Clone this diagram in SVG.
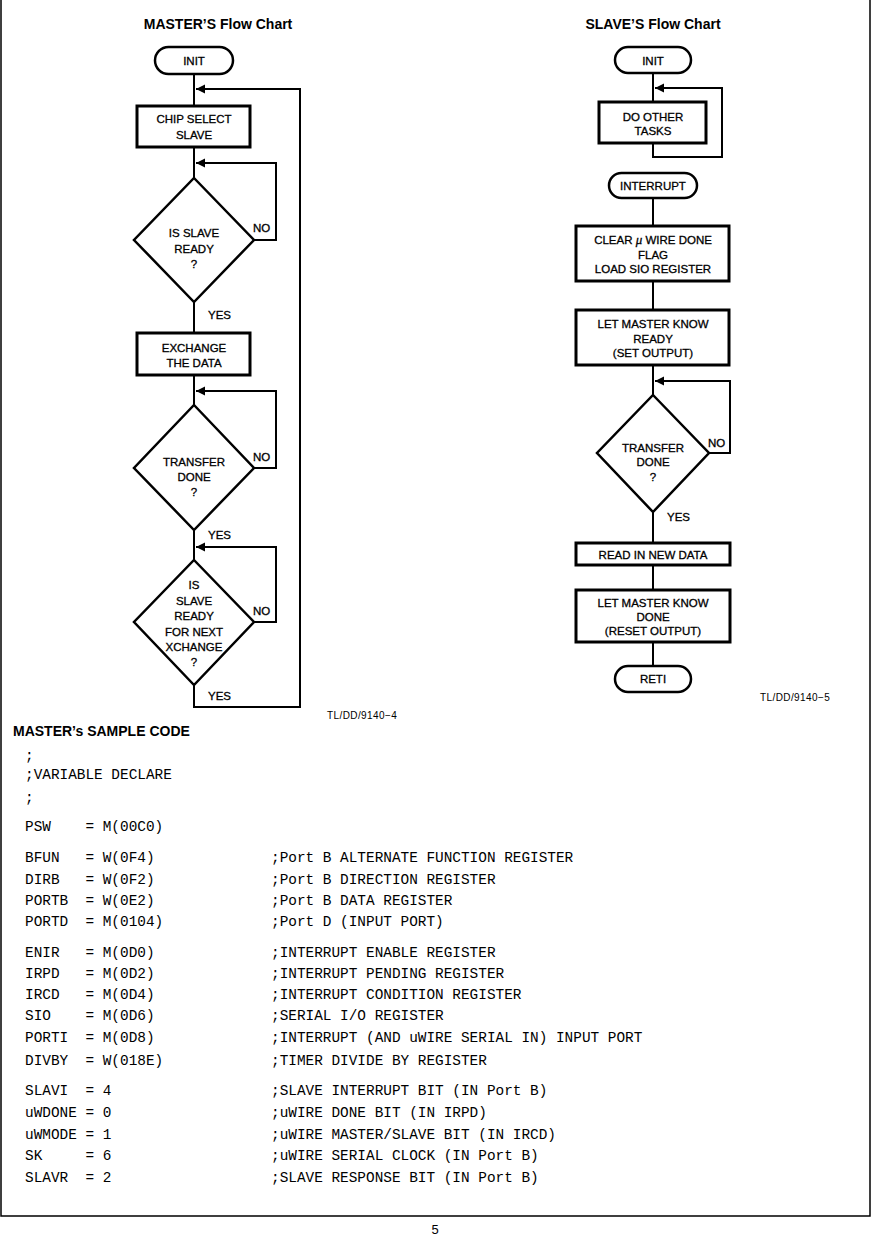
<svg xmlns="http://www.w3.org/2000/svg" width="871" height="1236" viewBox="0 0 871 1236">
<defs>
<marker id="ah" markerUnits="userSpaceOnUse" markerWidth="10" markerHeight="10" refX="9" refY="5" orient="auto">
<path d="M0,0.5 L9,5 L0,9.5 z" fill="#000"/>
</marker>
<style>
.t{font-family:"Liberation Sans",Arial,sans-serif;font-size:11.5px;fill:#000;stroke:#000;stroke-width:0.3;text-anchor:middle}
.l{font-family:"Liberation Sans",Arial,sans-serif;font-size:11.5px;fill:#000;stroke:#000;stroke-width:0.3}
.h{font-family:"Liberation Sans",Arial,sans-serif;font-size:14px;font-weight:bold;fill:#000}
.id{font-family:"Liberation Sans",Arial,sans-serif;font-size:10px;fill:#000;letter-spacing:0.4px}
.c{font-family:"Liberation Mono","Courier New",monospace;font-size:14.4px;fill:#000;white-space:pre}
.box{fill:#fff;stroke:#000;stroke-width:3}
.dia{fill:#fff;stroke:#000;stroke-width:2.5}
.term{fill:#fff;stroke:#000;stroke-width:2.5}
.cn{fill:none;stroke:#000;stroke-width:2}
</style>
</defs>
<rect width="871" height="1236" fill="#fff"/>
<path d="M1,0 V1216 H870 V0" fill="none" stroke="#000" stroke-width="1.5"/>

<text class="h" x="218" y="29" text-anchor="middle">MASTER’S Flow Chart</text>
<text class="h" x="653" y="29" text-anchor="middle">SLAVE’S Flow Chart</text>

<g id="connectors">
<path class="cn" d="M194,74 V106"/>
<path class="cn" d="M194,147 V178"/>
<path class="cn" d="M254,240 H276 V163 H196" marker-end="url(#ah)"/>
<path class="cn" d="M194,302 V333"/>
<path class="cn" d="M194,375 V405"/>
<path class="cn" d="M254,468 H276 V391 H196" marker-end="url(#ah)"/>
<path class="cn" d="M194,530 V560"/>
<path class="cn" d="M254,622 H276 V547 H196" marker-end="url(#ah)"/>
<path class="cn" d="M194,685 V707 H300 V89 H196" marker-end="url(#ah)"/>
<path class="cn" d="M653,73 V102"/>
<path class="cn" d="M653,143 V157 H722 V88 H655" marker-end="url(#ah)"/>
<path class="cn" d="M653,198 V226"/>
<path class="cn" d="M653,281 V310"/>
<path class="cn" d="M653,365 V395"/>
<path class="cn" d="M709,453 H730 V381 H655" marker-end="url(#ah)"/>
<path class="cn" d="M653,512 V543"/>
<path class="cn" d="M653,565 V590"/>
<path class="cn" d="M653,642 V666"/>
</g>

<g id="m_init"><rect class="term" x="155" y="47" width="78" height="27" rx="13.5"/><text class="t" x="194" y="65">INIT</text></g>
<g id="m_chip"><rect class="box" x="137" y="106" width="113" height="41"/><text class="t" x="194" y="123">CHIP SELECT</text><text class="t" x="194" y="139">SLAVE</text></g>
<g id="m_ready"><path class="dia" d="M194,178 L254,240 L194,302 L134,240 Z"/><text class="t" x="194" y="237">IS SLAVE</text><text class="t" x="194" y="253">READY</text><text class="t" x="194" y="268">?</text></g>
<g id="m_exch"><rect class="box" x="137" y="333" width="113" height="42"/><text class="t" x="194" y="352">EXCHANGE</text><text class="t" x="194" y="367">THE DATA</text></g>
<g id="m_done"><path class="dia" d="M194,405 L254,468 L194,530 L134,468 Z"/><text class="t" x="194" y="466">TRANSFER</text><text class="t" x="194" y="481">DONE</text><text class="t" x="194" y="496">?</text></g>
<g id="m_next"><path class="dia" d="M194,560 L254,622 L194,685 L134,622 Z"/><text class="t" x="194" y="589">IS</text><text class="t" x="194" y="605">SLAVE</text><text class="t" x="194" y="620">READY</text><text class="t" x="194" y="636">FOR NEXT</text><text class="t" x="194" y="651">XCHANGE</text><text class="t" x="194" y="666">?</text></g>
<g id="m_labels">
<text class="l" x="253" y="232">NO</text>
<text class="l" x="208" y="319">YES</text>
<text class="l" x="253" y="461">NO</text>
<text class="l" x="208" y="539">YES</text>
<text class="l" x="253" y="615">NO</text>
<text class="l" x="208" y="700">YES</text>
<text class="id" x="327" y="719">TL/DD/9140−4</text>
</g>

<g id="s_init"><rect class="term" x="615" y="47" width="76" height="26" rx="13"/><text class="t" x="653" y="65">INIT</text></g>
<g id="s_other"><rect class="box" x="599" y="102" width="107" height="41"/><text class="t" x="653" y="121">DO OTHER</text><text class="t" x="653" y="135">TASKS</text></g>
<g id="s_int"><rect class="term" x="609" y="173" width="88" height="25" rx="12.5"/><text class="t" x="653" y="190">INTERRUPT</text></g>
<g id="s_clear"><rect class="box" x="576" y="226" width="153" height="55"/><text class="t" x="653" y="244">CLEAR <tspan font-family="'Liberation Serif',serif" font-style="italic" font-size="13px">μ</tspan> WIRE DONE</text><text class="t" x="653" y="259">FLAG</text><text class="t" x="653" y="273">LOAD SIO REGISTER</text></g>
<g id="s_ready"><rect class="box" x="576" y="310" width="153" height="55"/><text class="t" x="653" y="328">LET MASTER KNOW</text><text class="t" x="653" y="343">READY</text><text class="t" x="653" y="357">(SET OUTPUT)</text></g>
<g id="s_done"><path class="dia" d="M653,395 L709,453 L653,512 L597,453 Z"/><text class="t" x="653" y="452">TRANSFER</text><text class="t" x="653" y="466">DONE</text><text class="t" x="653" y="481">?</text></g>
<g id="s_read"><rect class="box" x="576" y="543" width="154" height="22"/><text class="t" x="653" y="559">READ IN NEW DATA</text></g>
<g id="s_ldone"><rect class="box" x="576" y="590" width="154" height="52"/><text class="t" x="653" y="607">LET MASTER KNOW</text><text class="t" x="653" y="621">DONE</text><text class="t" x="653" y="635">(RESET OUTPUT)</text></g>
<g id="s_reti"><rect class="term" x="615" y="666" width="76" height="26" rx="13"/><text class="t" x="653" y="683">RETI</text></g>
<g id="s_labels">
<text class="l" x="708" y="447">NO</text>
<text class="l" x="667" y="521">YES</text>
<text class="id" x="760" y="701">TL/DD/9140−5</text>
</g>

<g id="code">
<text class="h" x="13" y="736">MASTER’s SAMPLE CODE</text>
<text class="c" x="25" y="760">;</text>
<text class="c" x="25" y="779">;VARIABLE DECLARE</text>
<text class="c" x="25" y="802">;</text>
<text class="c" x="25" y="831">PSW    = M(00C0)</text>
<text class="c" x="25" y="862">BFUN   = W(0F4)</text><text class="c" x="271" y="862">;Port B ALTERNATE FUNCTION REGISTER</text>
<text class="c" x="25" y="884">DIRB   = W(0F2)</text><text class="c" x="271" y="884">;Port B DIRECTION REGISTER</text>
<text class="c" x="25" y="905">PORTB  = W(0E2)</text><text class="c" x="271" y="905">;Port B DATA REGISTER</text>
<text class="c" x="25" y="926">PORTD  = M(0104)</text><text class="c" x="271" y="926">;Port D (INPUT PORT)</text>
<text class="c" x="25" y="957">ENIR   = M(0D0)</text><text class="c" x="271" y="957">;INTERRUPT ENABLE REGISTER</text>
<text class="c" x="25" y="978">IRPD   = M(0D2)</text><text class="c" x="271" y="978">;INTERRUPT PENDING REGISTER</text>
<text class="c" x="25" y="999">IRCD   = M(0D4)</text><text class="c" x="271" y="999">;INTERRUPT CONDITION REGISTER</text>
<text class="c" x="25" y="1020">SIO    = M(0D6)</text><text class="c" x="271" y="1020">;SERIAL I/O REGISTER</text>
<text class="c" x="25" y="1042">PORTI  = M(0D8)</text><text class="c" x="271" y="1042">;INTERRUPT (AND uWIRE SERIAL IN) INPUT PORT</text>
<text class="c" x="25" y="1065">DIVBY  = W(018E)</text><text class="c" x="271" y="1065">;TIMER DIVIDE BY REGISTER</text>
<text class="c" x="25" y="1095">SLAVI  = 4</text><text class="c" x="271" y="1095">;SLAVE INTERRUPT BIT (IN Port B)</text>
<text class="c" x="25" y="1117">uWDONE = 0</text><text class="c" x="271" y="1117">;uWIRE DONE BIT (IN IRPD)</text>
<text class="c" x="25" y="1139">uWMODE = 1</text><text class="c" x="271" y="1139">;uWIRE MASTER/SLAVE BIT (IN IRCD)</text>
<text class="c" x="25" y="1160">SK     = 6</text><text class="c" x="271" y="1160">;uWIRE SERIAL CLOCK (IN Port B)</text>
<text class="c" x="25" y="1182">SLAVR  = 2</text><text class="c" x="271" y="1182">;SLAVE RESPONSE BIT (IN Port B)</text>
</g>
<text x="435" y="1234" text-anchor="middle" font-family="'Liberation Sans',Arial,sans-serif" font-size="13px" fill="#000">5</text>
</svg>
